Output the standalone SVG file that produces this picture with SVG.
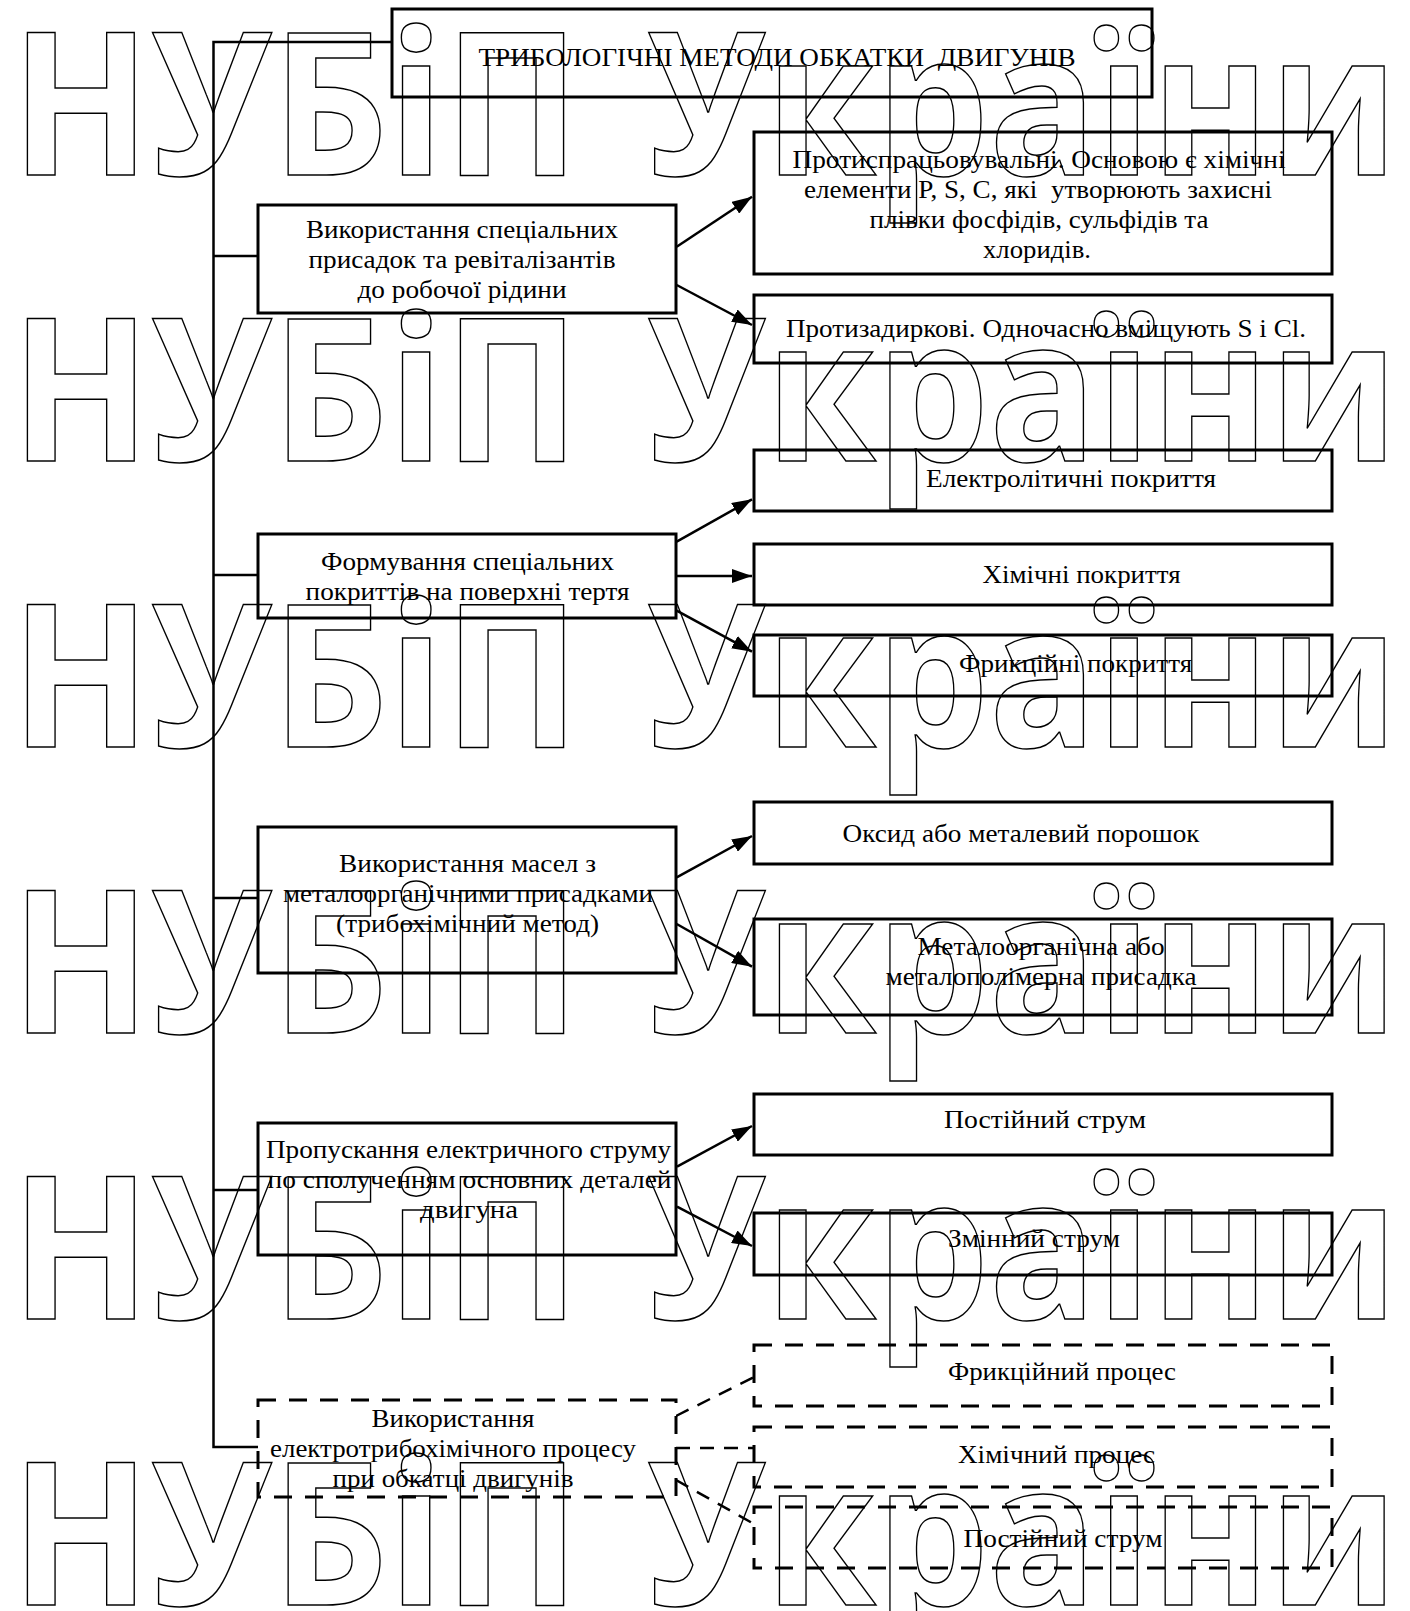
<svg xmlns="http://www.w3.org/2000/svg" width="1410" height="1611" viewBox="0 0 1410 1611">
<style>
.box{fill:#fff;stroke:#000;stroke-width:3}
.dbox{fill:#fff;stroke:#000;stroke-width:3;stroke-dasharray:18 13}
.t{font-family:"Liberation Serif","Times New Roman",serif;font-size:26px;fill:#000;text-anchor:middle}
.c{stroke:#000;stroke-width:2.5;fill:none}
.a{marker-end:url(#ah)}
.dc{stroke-dasharray:14 10}
.wm{font-family:"Open Sans",sans-serif;font-weight:700;font-size:200px;fill:none;stroke:#000;stroke-width:1.5}
</style>
<defs>
<marker id="ah" markerUnits="userSpaceOnUse" markerWidth="22" markerHeight="14" refX="20" refY="7" orient="auto"><path d="M0,0 L20,7 L0,14 z" fill="#000"/></marker>
</defs>
<rect width="1410" height="1611" fill="#fff"/>
<g id="connectors">
<path class="c" d="M392,42 H213.5 V1447 H258"/>
<path class="c" d="M213.5,256 H258 M213.5,575 H258 M213.5,898 H258 M213.5,1190 H258"/>
<line class="c a" x1="676.7" y1="246.7" x2="752" y2="196.7"/>
<line class="c a" x1="676.7" y1="285" x2="752" y2="325"/>
<line class="c a" x1="676.7" y1="541.7" x2="752" y2="499.3"/>
<line class="c a" x1="676.7" y1="576" x2="752" y2="576"/>
<line class="c a" x1="676.7" y1="610.7" x2="752" y2="651.7"/>
<line class="c a" x1="676.7" y1="877.3" x2="752" y2="836"/>
<line class="c a" x1="676.7" y1="924" x2="752" y2="966.7"/>
<line class="c a" x1="677" y1="1166.7" x2="752" y2="1126"/>
<line class="c a" x1="677" y1="1206.7" x2="752" y2="1246"/>
<line class="c dc" x1="676" y1="1416" x2="754" y2="1377"/>
<line class="c dc" x1="676" y1="1448" x2="754" y2="1448"/>
<line class="c dc" x1="676" y1="1480" x2="754" y2="1524"/>
</g>
<g id="title">
<rect class="box" x="392" y="9" width="760" height="88"/>
<text class="t" x="777" y="66" textLength="597" lengthAdjust="spacingAndGlyphs" xml:space="preserve">ТРИБОЛОГІЧНІ МЕТОДИ ОБКАТКИ  ДВИГУНІВ</text>
</g>
<g id="box1">
<rect class="box" x="258" y="205" width="418" height="108"/>
<text class="t" x="462" y="238" textLength="312" lengthAdjust="spacingAndGlyphs">Використання спеціальних</text>
<text class="t" x="462" y="268" textLength="307" lengthAdjust="spacingAndGlyphs">присадок та ревіталізантів</text>
<text class="t" x="462" y="297.7" textLength="209" lengthAdjust="spacingAndGlyphs">до робочої рідини</text>
</g>
<g id="box2">
<rect class="box" x="258" y="534" width="418" height="84"/>
<text class="t" x="467.6" y="570" textLength="293" lengthAdjust="spacingAndGlyphs">Формування спеціальних</text>
<text class="t" x="467.6" y="600" textLength="324" lengthAdjust="spacingAndGlyphs">покриттів на поверхні тертя</text>
</g>
<g id="box3">
<rect class="box" x="258" y="827" width="418" height="146"/>
<text class="t" x="467.6" y="871.7" textLength="257" lengthAdjust="spacingAndGlyphs">Використання масел з</text>
<text class="t" x="468" y="901.7" textLength="370" lengthAdjust="spacingAndGlyphs">металоорганічними присадками</text>
<text class="t" x="467.6" y="931.5" textLength="263" lengthAdjust="spacingAndGlyphs">(трибохімічний метод)</text>
</g>
<g id="box4">
<rect class="box" x="258" y="1123" width="418" height="132"/>
<text class="t" x="468.5" y="1158.3" textLength="405" lengthAdjust="spacingAndGlyphs">Пропускання електричного струму</text>
<text class="t" x="469.5" y="1188.3" textLength="404" lengthAdjust="spacingAndGlyphs">по сполученням основних деталей</text>
<text class="t" x="469" y="1218.3" textLength="98" lengthAdjust="spacingAndGlyphs">двигуна</text>
</g>
<g id="box5">
<rect class="dbox" x="258" y="1400" width="418" height="97"/>
<text class="t" x="453" y="1426.7" textLength="163" lengthAdjust="spacingAndGlyphs">Використання</text>
<text class="t" x="453" y="1456.7" textLength="366" lengthAdjust="spacingAndGlyphs">електротрибохімічного процесу</text>
<text class="t" x="453" y="1486.7" textLength="241" lengthAdjust="spacingAndGlyphs">при обкатці двигунів</text>
</g>
<g id="r1">
<rect class="box" x="754" y="132" width="578" height="142"/>
<text class="t" x="1039" y="168.3" textLength="493" lengthAdjust="spacingAndGlyphs">Протиспрацьовувальні. Основою є хімічні</text>
<text class="t" x="1038" y="198.3" textLength="468" lengthAdjust="spacingAndGlyphs" xml:space="preserve">елементи P, S, C, які  утворюють захисні</text>
<text class="t" x="1039" y="228.3" textLength="339" lengthAdjust="spacingAndGlyphs">плівки фосфідів, сульфідів та</text>
<text class="t" x="1037" y="258.3" textLength="108" lengthAdjust="spacingAndGlyphs">хлоридів.</text>
</g>
<g id="r2">
<rect class="box" x="754" y="295" width="578" height="68"/>
<text class="t" x="1046" y="336.7" textLength="520" lengthAdjust="spacingAndGlyphs">Протизадиркові. Одночасно вміщують S і Cl.</text>
</g>
<g id="r3">
<rect class="box" x="754" y="450" width="578" height="61"/>
<text class="t" x="1071" y="486.7" textLength="290" lengthAdjust="spacingAndGlyphs">Електролітичні покриття</text>
</g>
<g id="r4">
<rect class="box" x="754" y="544" width="578" height="61"/>
<text class="t" x="1081.6" y="583.3" textLength="198" lengthAdjust="spacingAndGlyphs">Хімічні покриття</text>
</g>
<g id="r5">
<rect class="box" x="754" y="635" width="578" height="61"/>
<text class="t" x="1075.6" y="671.7" textLength="233" lengthAdjust="spacingAndGlyphs">Фрикційні покриття</text>
</g>
<g id="r6">
<rect class="box" x="754" y="802" width="578" height="62"/>
<text class="t" x="1021" y="841.7" textLength="357" lengthAdjust="spacingAndGlyphs">Оксид або металевий порошок</text>
</g>
<g id="r7">
<rect class="box" x="754" y="919" width="578" height="96"/>
<text class="t" x="1041" y="955" textLength="247" lengthAdjust="spacingAndGlyphs">Металоорганічна або</text>
<text class="t" x="1041" y="985" textLength="311" lengthAdjust="spacingAndGlyphs">металополімерна присадка</text>
</g>
<g id="r8">
<rect class="box" x="754" y="1094" width="578" height="61"/>
<text class="t" x="1045" y="1128.3" textLength="202" lengthAdjust="spacingAndGlyphs">Постійний струм</text>
</g>
<g id="r9">
<rect class="box" x="754" y="1213" width="578" height="62"/>
<text class="t" x="1034" y="1246.7" textLength="172" lengthAdjust="spacingAndGlyphs">Змінний струм</text>
</g>
<g id="r10">
<rect class="dbox" x="754" y="1345" width="578" height="61"/>
<text class="t" x="1062" y="1380" textLength="228" lengthAdjust="spacingAndGlyphs">Фрикційний процес</text>
</g>
<g id="r11">
<rect class="dbox" x="754" y="1427" width="578" height="60"/>
<text class="t" x="1056.5" y="1463.3" textLength="197" lengthAdjust="spacingAndGlyphs">Хімічний процес</text>
</g>
<g id="r12">
<rect class="dbox" x="754" y="1507" width="578" height="61"/>
<text class="t" x="1063" y="1546.7" textLength="199" lengthAdjust="spacingAndGlyphs">Постійний струм</text>
</g>
<g id="watermark">
<text class="wm" x="11" y="175" textLength="569" lengthAdjust="spacingAndGlyphs">НУБіП</text>
<text class="wm" x="647" y="175" textLength="751" lengthAdjust="spacingAndGlyphs">України</text>
<text class="wm" x="11" y="461" textLength="569" lengthAdjust="spacingAndGlyphs">НУБіП</text>
<text class="wm" x="647" y="461" textLength="751" lengthAdjust="spacingAndGlyphs">України</text>
<text class="wm" x="11" y="747" textLength="569" lengthAdjust="spacingAndGlyphs">НУБіП</text>
<text class="wm" x="647" y="747" textLength="751" lengthAdjust="spacingAndGlyphs">України</text>
<text class="wm" x="11" y="1033" textLength="569" lengthAdjust="spacingAndGlyphs">НУБіП</text>
<text class="wm" x="647" y="1033" textLength="751" lengthAdjust="spacingAndGlyphs">України</text>
<text class="wm" x="11" y="1319" textLength="569" lengthAdjust="spacingAndGlyphs">НУБіП</text>
<text class="wm" x="647" y="1319" textLength="751" lengthAdjust="spacingAndGlyphs">України</text>
<text class="wm" x="11" y="1605" textLength="569" lengthAdjust="spacingAndGlyphs">НУБіП</text>
<text class="wm" x="647" y="1605" textLength="751" lengthAdjust="spacingAndGlyphs">України</text>
</g>
</svg>
